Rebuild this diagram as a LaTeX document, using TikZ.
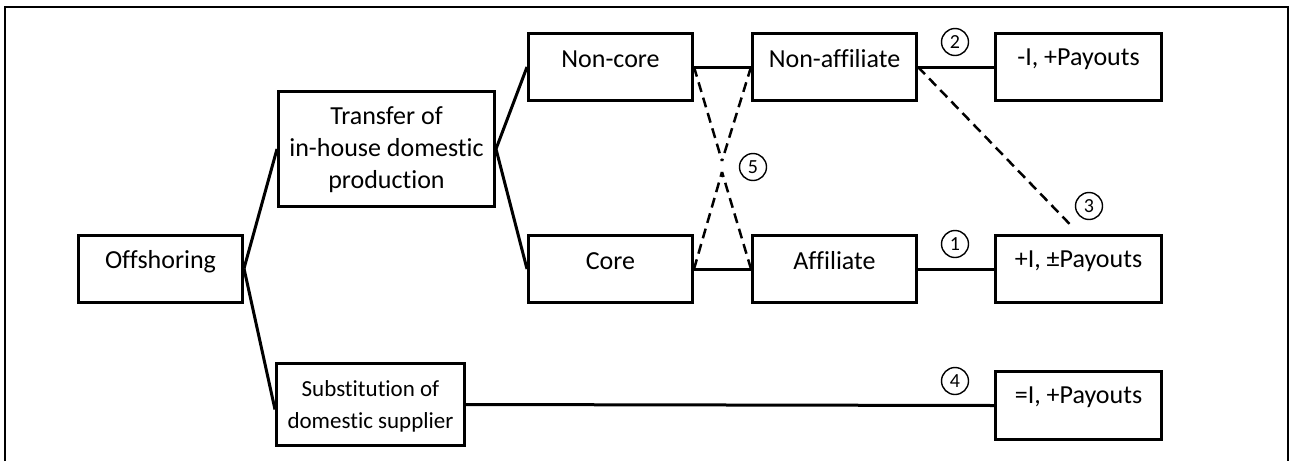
\documentclass[tikz,border=0pt]{standalone}
\usepackage{fontspec}
\setmainfont{Carlito}[Ligatures=NoCommon]
\begin{document}
\begin{tikzpicture}[x=1pt,y=-1pt,
  box/.style={draw,line width=3pt,rectangle,inner sep=0pt,minimum width=164pt,minimum height=67pt},
  txt/.style={font=\fontsize{26}{32}\selectfont,align=center,inner sep=0pt},
  conn/.style={line width=3pt},
  dconn/.style={line width=2.5pt,dash pattern=on 10pt off 6pt},
  num/.style={draw,circle,line width=1.4pt,minimum size=27pt,inner sep=0pt,font=\fontsize{20}{20}\selectfont}]
\useasboundingbox (0,0) rectangle (1290,461);
\draw[line width=2pt] (5,461) -- (5,7) -- (1288,7) -- (1288,461);
% boxes
\node[box] (off) at (160.5,268.5) {};
\node[box,minimum width=216pt,minimum height=115pt] (trans) at (386.5,149) {};
\node[box,minimum width=188pt,minimum height=82pt] (subst) at (370.5,404.5) {};
\node[box] (noncore) at (610.5,67) {};
\node[box] (core) at (610.5,269) {};
\node[box] (nonaff) at (834.5,67) {};
\node[box] (aff) at (834.5,269) {};
\node[box,minimum width=166pt] (r2) at (1078.5,67) {};
\node[box,minimum width=166pt] (r1) at (1078.5,269) {};
\node[box,minimum width=166pt,minimum height=68pt] (r4) at (1078.5,405.5) {};
% texts
\node[txt] (toff) at ([yshift=7pt]off.center) {Offshoring};
\node[txt] (ttrans) at ([yshift=-1pt]trans.center) {Transfer of\\in-house domestic\\production};
\node[txt,font=\fontsize{23}{32}\selectfont] (tsubst) at ([yshift=-2pt]subst.center) {Substitution of\\domestic supplier};
\node[txt] (tnoncore) at ([yshift=8pt]noncore.center) {Non-core};
\node[txt] (tcore) at ([yshift=8pt]core.center) {Core};
\node[txt] (tnonaff) at ([yshift=8pt]nonaff.center) {Non-affiliate};
\node[txt] (taff) at ([yshift=8pt]aff.center) {Affiliate};
\node[txt] (tr2) at ([yshift=8pt]r2.center) {-I, +Payouts};
\node[txt] (tr1) at ([yshift=8pt]r1.center) {+I, ±Payouts};
\node[txt] (tr4) at ([yshift=8pt]r4.center) {=I, +Payouts};
% connectors
\draw[conn] (off.east) -- (trans.west);
\draw[conn] (off.east) -- ([yshift=-5pt]subst.west);
\draw[conn] (trans.east) -- (noncore.west);
\draw[conn] (trans.east) -- (core.west);
\draw[conn] (noncore.east) -- (nonaff.west);
\draw[conn] (core.east) -- (aff.west);
\draw[conn] (nonaff.east) -- (r2.west);
\draw[conn] (aff.east) -- (r1.west);
\draw[conn] (subst.east) -- (r4.west);
\coordinate (vtop) at (722,161);
\coordinate (vbot) at (722,172);
\draw[dconn] (noncore.east) -- (vtop);
\draw[dconn] (nonaff.west) -- (vtop);
\draw[dconn] (core.east) -- (vbot);
\draw[dconn] (aff.west) -- (vbot);
\draw[dconn] (nonaff.east) -- ([xshift=-5pt,yshift=6pt]r1.north);
% numbers
\node[num] (n1) at (955,244) {1};
\node[num] (n2) at (955,42) {2};
\node[num] (n3) at (1089,206) {3};
\node[num] (n4) at (955,381) {4};
\node[num] (n5) at (753,167) {5};
\end{tikzpicture}
\end{document}
